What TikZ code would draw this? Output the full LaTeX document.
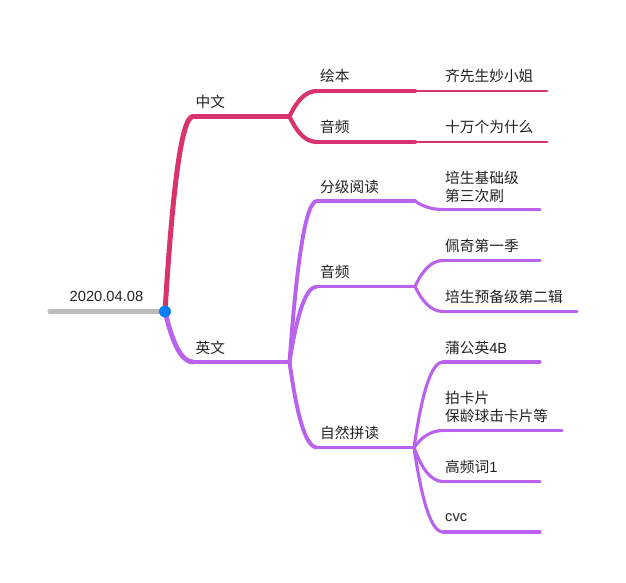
\documentclass[tikz,border=0pt]{standalone}
\usepackage{fontspec}
\usetikzlibrary{calc}
\setmainfont{Liberation Sans}
\newfontfamily\cjk{Noto Sans CJK SC}
\definecolor{rootgray}{HTML}{BDBBBD}
\definecolor{redline}{HTML}{D9336F}
\definecolor{purpline}{HTML}{BA62EE}
\definecolor{bluedot}{HTML}{0A7DF7}
\definecolor{inkc}{HTML}{222222}
\newcommand{\curvelink}[3]{\draw[#1] let \p1=(#2),\p2=(#3) in (\p1) .. controls ({\x1+0.25*(\x2-\x1)},{\y1+0.58*(\y2-\y1)}) and ({\x1+0.56*(\x2-\x1)},\y2) .. (\p2);}
\tikzset{
  lab/.style={anchor=west,inner sep=0pt,text=inkc,font=\fontsize{14.7}{18}\selectfont\cjk,align=left},
  latlab/.style={anchor=west,inner sep=0pt,text=inkc,font=\fontsize{14.7}{18}\selectfont},
  base/.style={line cap=round,line join=round},
  rootl/.style={base,draw=rootgray,line width=5.2pt},
  redA/.style={base,draw=redline,line width=5pt},
  redB/.style={base,draw=redline,line width=4.2pt},
  redC/.style={base,draw=redline,line width=2.9pt},
  purA/.style={base,draw=purpline,line width=4.8pt},
  purB/.style={base,draw=purpline,line width=3.9pt},
  purC/.style={base,draw=purpline,line width=3.1pt},
}
\begin{document}
\begin{tikzpicture}[x=1pt,y=-1pt]
\useasboundingbox (0,0) rectangle (626,583);
% junction points
\coordinate (rs) at (50,311.5);
\coordinate (rt) at (165,311.5);
\coordinate (zh1) at (193,116.5);
\coordinate (zh2) at (289.5,116.5);
\coordinate (en1) at (193,362);
\coordinate (en2) at (289.5,362);
\coordinate (hb1) at (317,91);
\coordinate (hb2) at (415,91);
\coordinate (hb3) at (547,91);
\coordinate (yp1) at (317,142);
\coordinate (yp2) at (415,142);
\coordinate (yp3) at (547,142);
\coordinate (fj1) at (317,201);
\coordinate (fj2) at (415,201);
\coordinate (fj3) at (443,209.5);
\coordinate (fj4) at (540,209.5);
\coordinate (ye1) at (317,286.5);
\coordinate (ye2) at (415,286.5);
\coordinate (pq1) at (443,260.5);
\coordinate (pq2) at (540,260.5);
\coordinate (py1) at (443,311.5);
\coordinate (py2) at (577,311.5);
\coordinate (zr1) at (317,447.5);
\coordinate (zr2) at (414,447.5);
\coordinate (pg1) at (443,362);
\coordinate (pg2) at (540,362);
\coordinate (pk1) at (443,430.5);
\coordinate (pk2) at (562,430.5);
\coordinate (gp1) at (443,481.5);
\coordinate (gp2) at (540,481.5);
\coordinate (cv1) at (443,532);
\coordinate (cv2) at (540,532);
% connectors
\draw[rootl] (rs) -- (rt);
\curvelink{purA}{rt}{en1}
\draw[purA] (en1) -- (en2);
\curvelink{redA}{rt}{zh1}
\draw[redA] (zh1) -- (zh2);
\curvelink{redB}{zh2}{hb1}
\draw[redB] (hb1) -- (hb2);
\draw[redC] (hb2) -- (hb3);
\curvelink{redB}{zh2}{yp1}
\draw[redB] (yp1) -- (yp2);
\draw[redC] (yp2) -- (yp3);
\curvelink{purB}{en2}{fj1}
\draw[purB] (fj1) -- (fj2);
\curvelink{purC}{fj2}{fj3}
\draw[purC] (fj3) -- (fj4);
\curvelink{purB}{en2}{ye1}
\draw[purB] (ye1) -- (ye2);
\curvelink{purC}{ye2}{pq1}
\draw[purC] (pq1) -- (pq2);
\curvelink{purC}{ye2}{py1}
\draw[purC] (py1) -- (py2);
\curvelink{purB}{en2}{zr1}
\draw[purB] (zr1) -- (zr2);
\curvelink{purC}{zr2}{pg1}
\draw[purC] (pg1) -- (pg2);
\curvelink{purC}{zr2}{pk1}
\draw[purC] (pk1) -- (pk2);
\curvelink{purC}{zr2}{gp1}
\draw[purC] (gp1) -- (gp2);
\curvelink{purC}{zr2}{cv1}
\draw[purC] (cv1) -- (cv2);
\node[circle,fill=bluedot,inner sep=0pt,minimum size=12pt] (dot) at (rt) {};
% labels
\node[latlab] (root) at (69.5,296.5) {2020.04.08};
\node[lab] (zh) at (195.5,102) {中文};
\node[lab] (en) at (195.5,348) {英文};
\node[lab] (hb) at (320,76) {绘本};
\node[lab] (yp) at (320,127) {音频};
\node[lab] (fj) at (320,187) {分级阅读};
\node[lab] (ye) at (320,272) {音频};
\node[lab] (zr) at (320,433) {自然拼读};
\node[lab] (qx) at (445,76) {齐先生妙小姐};
\node[lab] (sw) at (445,127) {十万个为什么};
\node[lab] (px) at (445,187) {培生基础级\\第三次刷};
\node[lab] (pq) at (445,246) {佩奇第一季};
\node[lab] (pb) at (445,297) {培生预备级第二辑};
\node[lab] (pu) at (445,347.5) {蒲公英{\fontspec{Liberation Sans}4B}};
\node[lab] (pa) at (445,407) {拍卡片\\保龄球击卡片等};
\node[lab] (gc) at (445,467) {高频词{\fontspec{Liberation Sans}1}};
\node[latlab] (cv) at (445,518) {cvc};
\end{tikzpicture}
\end{document}
